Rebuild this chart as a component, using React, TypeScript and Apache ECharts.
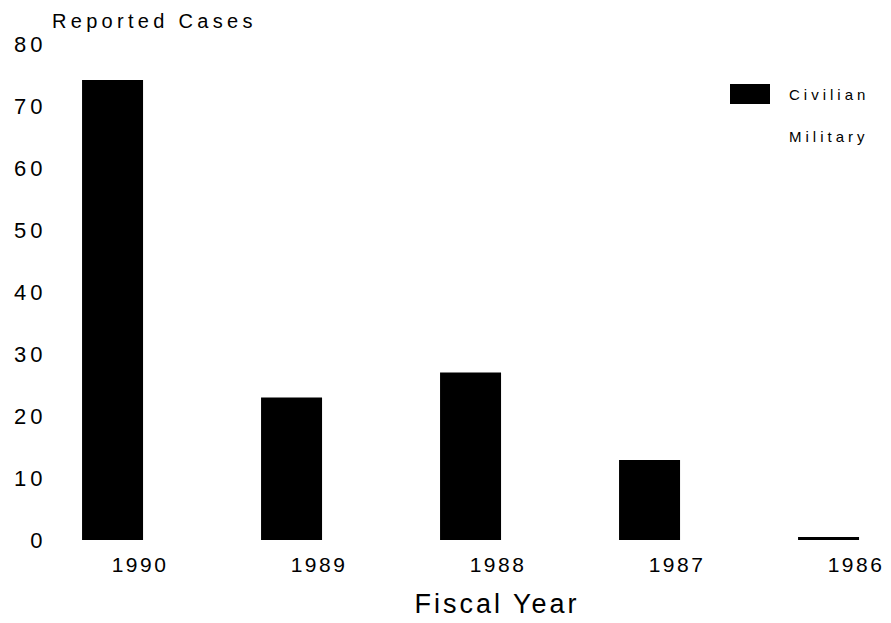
import React, { useEffect, useRef } from "react";
import * as echarts from "echarts";

const years = ["1990", "1989", "1988", "1987", "1986"];
const civilian = [74.2, 23, 27, 12.9, 0.5];
const military = [0, 0, 0, 0, 0];
const yTicks = { min: 0, max: 80, interval: 10 };
const yTitle = "Reported Cases";
const xTitle = "Fiscal Year";
const seriesNames = ["Civilian", "Military"];

// letter spacing (px) keyed by font size, to imitate the wide lettering of the original
const spacingBySize: Record<number, number> = { 20: 4.3, 21: 2.5, 22: 4, 27: 3, 15: 4 };

export default function App() {
  const ref = useRef<HTMLDivElement>(null);
  useEffect(() => {
    if (!ref.current) return;
    const chart = echarts.init(ref.current, null, { renderer: "svg" });
    const font = "Liberation Sans";
    chart.setOption({
      animation: false,
      backgroundColor: "#fff",
      textStyle: { fontFamily: font, color: "#000" },
      grid: { left: 50.5, right: -54.5, top: 44, bottom: 83, outerBoundsMode: "none", containLabel: false },
      legend: {
        orient: "vertical",
        left: 730,
        top: 84,
        padding: 0,
        itemWidth: 40,
        itemHeight: 20,
        itemGap: 22,
        icon: "rect",
        selectedMode: false,
        data: seriesNames,
        textStyle: { fontFamily: font, fontSize: 15, color: "#000", padding: [3, 0, 0, 14] },
      },
      xAxis: {
        type: "category",
        data: years,
        axisLine: { show: false },
        axisTick: { show: false },
        axisLabel: { fontFamily: font, fontSize: 21, color: "#000", margin: 14 },
        splitLine: { show: false },
      },
      yAxis: {
        type: "value",
        min: yTicks.min,
        max: yTicks.max,
        interval: yTicks.interval,
        axisLine: { show: false },
        axisTick: { show: false },
        splitLine: { show: false },
        axisLabel: { fontFamily: font, fontSize: 22, color: "#000", margin: 4 },
      },
      graphic: [
        {
          type: "text",
          left: 52,
          top: 11,
          style: { text: yTitle, fontFamily: font, fontSize: 20, fill: "#000" },
        },
        {
          type: "text",
          x: 497,
          y: 604,
          style: {
            text: xTitle,
            fontFamily: font,
            fontSize: 27,
            fill: "#000",
            align: "center",
            verticalAlign: "middle",
          },
        },
      ],
      series: [
        {
          name: seriesNames[0],
          type: "bar",
          data: civilian,
          barWidth: 61,
          barGap: "-10%",
          itemStyle: { color: "#000" },
        },
        {
          name: seriesNames[1],
          type: "bar",
          data: military,
          barWidth: 61,
          itemStyle: { color: "#fff" },
        },
      ],
    });
    const svg = ref.current.querySelector("svg");
    if (svg) {
      svg.querySelectorAll("text").forEach((t) => {
        const fs = Math.round(parseFloat(window.getComputedStyle(t).fontSize));
        const ls = spacingBySize[fs];
        if (ls) (t as SVGTextElement).style.letterSpacing = ls + "px";
      });
    }
    return () => chart.dispose();
  }, []);
  return (
    <div
      ref={ref}
      style={{ position: "absolute", left: 0, top: 0, width: 891, height: 623, background: "#fff" }}
    />
  );
}
